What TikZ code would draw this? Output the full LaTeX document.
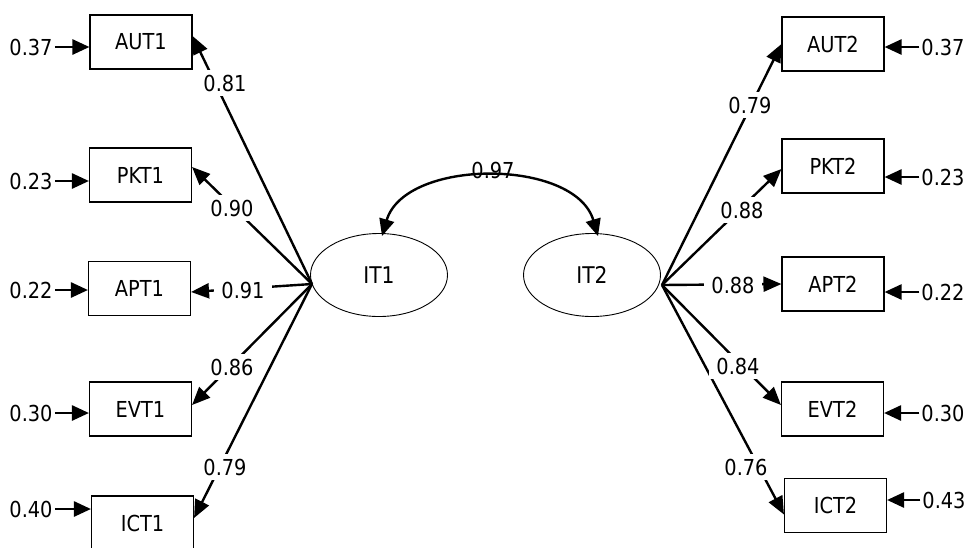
\documentclass[tikz,border=0pt]{standalone}
\usepackage{fontspec}
\setmainfont{DejaVu Sans}[FakeStretch=0.88]
\usetikzlibrary{arrows.meta,shapes.geometric}

\begin{document}
\begin{tikzpicture}[x=1pt,y=-1pt,
  obs/.style={draw, line width=1.1pt, minimum width=102pt, minimum height=54pt,
              inner sep=0pt, font=\fontsize{22}{26}\selectfont},
  lat/.style={draw, ellipse, line width=0.9pt, minimum width=137pt, minimum height=83pt,
              inner sep=0pt, font=\fontsize{23}{27}\selectfont},
  num/.style={inner sep=2pt, font=\fontsize{22}{26}\selectfont},
  coef/.style={num, fill=white, inner xsep=7pt, inner ysep=5pt},
  load/.style={line width=2.4pt, -{Triangle[length=18pt,width=15pt]}},
  err/.style={line width=2.6pt, -{Triangle[length=17pt,width=15pt]}},
  cov/.style={line width=2.4pt,
              {Triangle[length=17pt,width=15pt]}-{Triangle[length=17pt,width=15pt]}},
]
\useasboundingbox (0,0) rectangle (968,547);

% latent factors
\node[lat] (IT1) at (379,275) {IT1};
\node[lat] (IT2) at (592,275) {IT2};
\coordinate (c1) at (312,284);
\coordinate (c2) at (662,285);

% indicators, first factor
\node[obs] (AUT1) at (141,42)    {AUT1};
\node[obs] (PKT1) at (140.5,175) {PKT1};
\node[obs] (APT1) at (139.5,288.5) {APT1};
\node[obs] (EVT1) at (140.5,409) {EVT1};
\node[obs] (ICT1) at (142.5,523) {ICT1};

% indicators, second factor
\node[obs] (AUT2) at (833,44)    {AUT2};
\node[obs] (PKT2) at (833,166)   {PKT2};
\node[obs] (APT2) at (833,284)   {APT2};
\node[obs] (EVT2) at (832.5,409) {EVT2};
\node[obs] (ICT2) at (835.5,505.5) {ICT2};

% error variances, left
\node[num] (eA1) at (31,47)  {0.37};
\node[num] (eP1) at (31,181) {0.23};
\node[num] (eR1) at (31,290) {0.22};
\node[num] (eE1) at (31,413) {0.30};
\node[num] (eI1) at (31,509) {0.40};
\foreach \e/\b in {eA1/AUT1,eP1/PKT1,eR1/APT1,eE1/EVT1,eI1/ICT1}
  \draw[err] (\e.east) -- (\e.east -| \b.west);

% error variances, right
\node[num] (eA2) at (943,47)  {0.37};
\node[num] (eP2) at (943,177) {0.23};
\node[num] (eR2) at (943,292) {0.22};
\node[num] (eE2) at (943,413) {0.30};
\node[num] (eI2) at (944,500) {0.43};
\foreach \e/\b in {eA2/AUT2,eP2/PKT2,eR2/APT2,eE2/EVT2,eI2/ICT2}
  \draw[err] (\e.west) -- (\e.west -| \b.east);

% loadings, first factor
\draw[load] (c1) -- ([yshift=6pt]AUT1.east);
\draw[load] (c1) -- ([yshift=8pt]PKT1.east);
\draw[load] (c1) -- ([yshift=-3.5pt]APT1.east);
\draw[load] (c1) -- ([yshift=4pt]EVT1.east);
\draw[load] (c1) -- ([yshift=5pt]ICT1.east);
\node[coef] (l1) at (225,83)  {0.81};
\node[coef] (l2) at (232,208) {0.90};
\node[coef] (l3) at (243,290) {0.91};
\node[coef] (l4) at (232,367) {0.86};
\node[coef] (l5) at (225,467) {0.79};

% loadings, second factor
\draw[load] (c2) -- (AUT2.west);
\draw[load] (c2) -- ([yshift=-3pt]PKT2.west);
\draw[load] (c2) -- (APT2.west);
\draw[load] (c2) -- ([yshift=4pt]EVT2.west);
\draw[load] (c2) -- ([yshift=-9pt]ICT2.west);
\node[coef] (r1) at (750,105) {0.79};
\node[coef] (r2) at (742,210) {0.88};
\node[coef] (r3) at (733,285) {0.88};
\node[coef] (r4) at (738,366) {0.84};
\node[coef] (r5) at (746,467) {0.76};

% factor correlation
\draw[cov] ([xshift=3pt,yshift=-3pt]IT1.north)
  .. controls (405,158) and (575,158) .. ([xshift=6pt,yshift=-3pt]IT2.north);
\node[num] (rho) at (493,170) {0.97};
\end{tikzpicture}
\end{document}
